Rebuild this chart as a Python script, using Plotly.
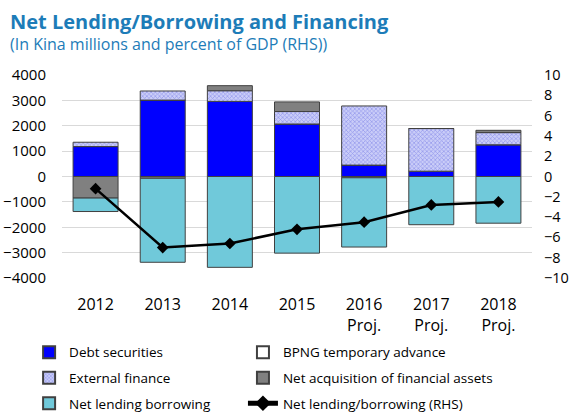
import plotly.graph_objects as go

categories = ["2012", "2013", "2014", "2015", "2016<br>Proj.", "2017<br>Proj.", "2018<br>Proj."]
debt_securities = [1180, 3010, 2960, 2070, 450, 210, 1250]
bpng_advance = [0, 0, 0, 0, 0, 0, 0]
external_finance = [170, 360, 420, 490, 2330, 1680, 480]
net_acq_fin_assets = [-850, -70, 200, 380, -50, 0, 90]
net_lending_borrowing = [-530, -3310, -3580, -3020, -2730, -1900, -1840]
net_lending_pct_gdp = [-1.2, -7.0, -6.6, -5.2, -4.5, -2.8, -2.5]

FONT = "Open Sans"
outline = dict(color="#404040", width=1)

fig = go.Figure()
fig.add_trace(go.Bar(x=categories, y=debt_securities, name="Debt securities",
                     legend="legend", legendgroup="a", legendrank=1,
                     marker=dict(color="#0000ff", line=outline)))
fig.add_trace(go.Bar(x=categories, y=bpng_advance, name="BPNG temporary advance",
                     legend="legend2", legendgroup="b", legendrank=1,
                     marker=dict(color="#ffffff", line=outline)))
fig.add_trace(go.Bar(x=categories, y=external_finance, name="External finance",
                     legend="legend", legendgroup="c", legendrank=2,
                     marker=dict(color="#c0c3f6", line=outline,
                                 pattern=dict(shape="x", fgcolor="#5c61e0", bgcolor="#cacdf8",
                                              size=3, solidity=0.4))))
fig.add_trace(go.Bar(x=categories, y=net_acq_fin_assets, name="Net acquisition of financial assets",
                     legend="legend2", legendgroup="d", legendrank=2,
                     marker=dict(color="#808080", line=outline)))
fig.add_trace(go.Bar(x=categories, y=net_lending_borrowing, name="Net lending borrowing",
                     legend="legend", legendgroup="e", legendrank=3,
                     marker=dict(color="#70c9da", line=outline)))
fig.add_trace(go.Scatter(x=categories, y=net_lending_pct_gdp, name="Net lending/borrowing (RHS)",
                         legend="legend2", legendgroup="f", legendrank=3,
                         yaxis="y2", mode="lines+markers",
                         line=dict(color="#000000", width=2.5),
                         marker=dict(symbol="diamond", size=9, color="#000000")))

legend_common = dict(orientation="v", xanchor="left", y=-0.29, yanchor="top",
                     font=dict(family=FONT, size=13.5), itemsizing="constant",
                     tracegroupgap=5, bgcolor="rgba(0,0,0,0)")

fig.update_layout(
    width=571, height=416,
    margin=dict(l=62, r=39, t=75, b=138, autoexpand=False),
    paper_bgcolor="white", plot_bgcolor="white",
    barmode="relative", bargap=0.33,
    font=dict(family=FONT, size=14, color="#000000"),
    showlegend=True,
    legend=dict(x=-0.07, **legend_common),
    legend2=dict(x=0.385, **legend_common),
    xaxis=dict(showgrid=False, showline=False, zeroline=False, ticks="",
               tickfont=dict(family=FONT, size=16), ticklabelstandoff=15),
    yaxis=dict(range=[-4000, 4000], dtick=1000, showgrid=True, gridcolor="#d9d9d9",
               gridwidth=1, zeroline=True, zerolinecolor="#d9d9d9", zerolinewidth=1,
               showline=False, ticks="", tickfont=dict(family=FONT, size=15),
               ticklabelstandoff=15),
    yaxis2=dict(range=[-10, 10], dtick=2, overlaying="y", side="right", showgrid=False,
                zeroline=False, showline=False, ticks="",
                tickfont=dict(family=FONT, size=14.5), ticklabelstandoff=11),
    annotations=[
        dict(text="<b>Net Lending/Borrowing and Financing</b>", xref="paper", yref="paper",
             x=-0.115, y=1.0, xanchor="left", yanchor="bottom", yshift=38, showarrow=False,
             font=dict(family=FONT, size=20, color="#1d7cb8")),
        dict(text="(In Kina millions and percent of GDP (RHS))", xref="paper", yref="paper",
             x=-0.115, y=1.0, xanchor="left", yanchor="bottom", yshift=18, showarrow=False,
             font=dict(family=FONT, size=16, color="#1d7cb8")),
    ],
)

fig.write_html(
    "out.html",
    config={"displayModeBar": False},
    post_script="document.body.style.margin='0';document.documentElement.style.overflow='hidden';",
)
